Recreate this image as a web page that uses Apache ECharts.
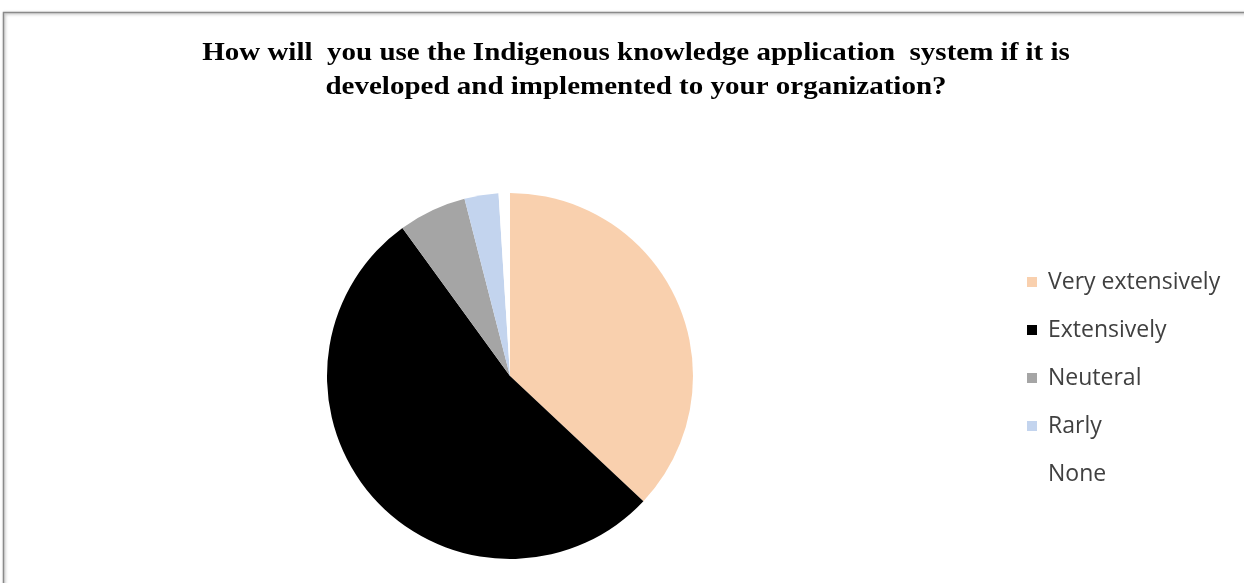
<!DOCTYPE html>
<html>
<head>
<meta charset="utf-8">
<script src="https://cdn.jsdelivr.net/npm/echarts@6/dist/echarts.min.js"></script>
<style>
html,body{margin:0;padding:0;background:#fff;}
#chart{width:1244px;height:583px;}
</style>
</head>
<body>
<div id="chart"></div>
<script>
var categories = ['Very extensively', 'Extensively', 'Neuteral', 'Rarly', 'None'];
var values = [37, 53, 6, 3, 1];
var colors = ['#F9D0AE', '#000000', '#A5A5A5', '#C3D4EE', '#FFFFFF'];
var titleLines = ['How will  you use the Indigenous knowledge application  system if it is', 'developed and implemented to your organization?'];

var chart = echarts.init(document.getElementById('chart'));
var data = categories.map(function (c, i) {
  return { name: c, value: values[i], itemStyle: { color: colors[i] } };
});
var titleFont = 'bold 25px "Liberation Serif"';
var titleGraphics = titleLines.map(function (t, i) {
  return {
    type: 'text',
    x: 636,
    y: 54 + i * 34,
    originX: 0,
    scaleX: 1.16,
    silent: true,
    style: { text: t, font: titleFont, fill: '#000', textAlign: 'center', textVerticalAlign: 'middle' }
  };
});
chart.setOption({
  animation: false,
  graphic: [{
    type: 'rect',
    shape: { x: 3.5, y: 12.5, width: 1260, height: 600 },
    style: { fill: 'none', stroke: '#8a8a8a', lineWidth: 1.5, shadowBlur: 3, shadowColor: 'rgba(0,0,0,0.35)', shadowOffsetX: 1, shadowOffsetY: 1 },
    silent: true
  }].concat(titleGraphics),
  legend: {
    orient: 'vertical',
    left: 1022,
    top: 265,
    itemWidth: 10,
    itemHeight: 10,
    itemGap: 24,
    icon: 'rect',
    selectedMode: false,
    data: categories,
    textStyle: { fontFamily: 'Open Sans', fontSize: 23, lineHeight: 24, color: '#404040', padding: [0, 0, 0, 6] }
  },
  series: [{
    type: 'pie',
    center: [510, 376],
    radius: 183,
    startAngle: 90,
    clockwise: true,
    silent: true,
    label: { show: false },
    labelLine: { show: false },
    itemStyle: { borderWidth: 0 },
    data: data
  }]
});
</script>
</body>
</html>
